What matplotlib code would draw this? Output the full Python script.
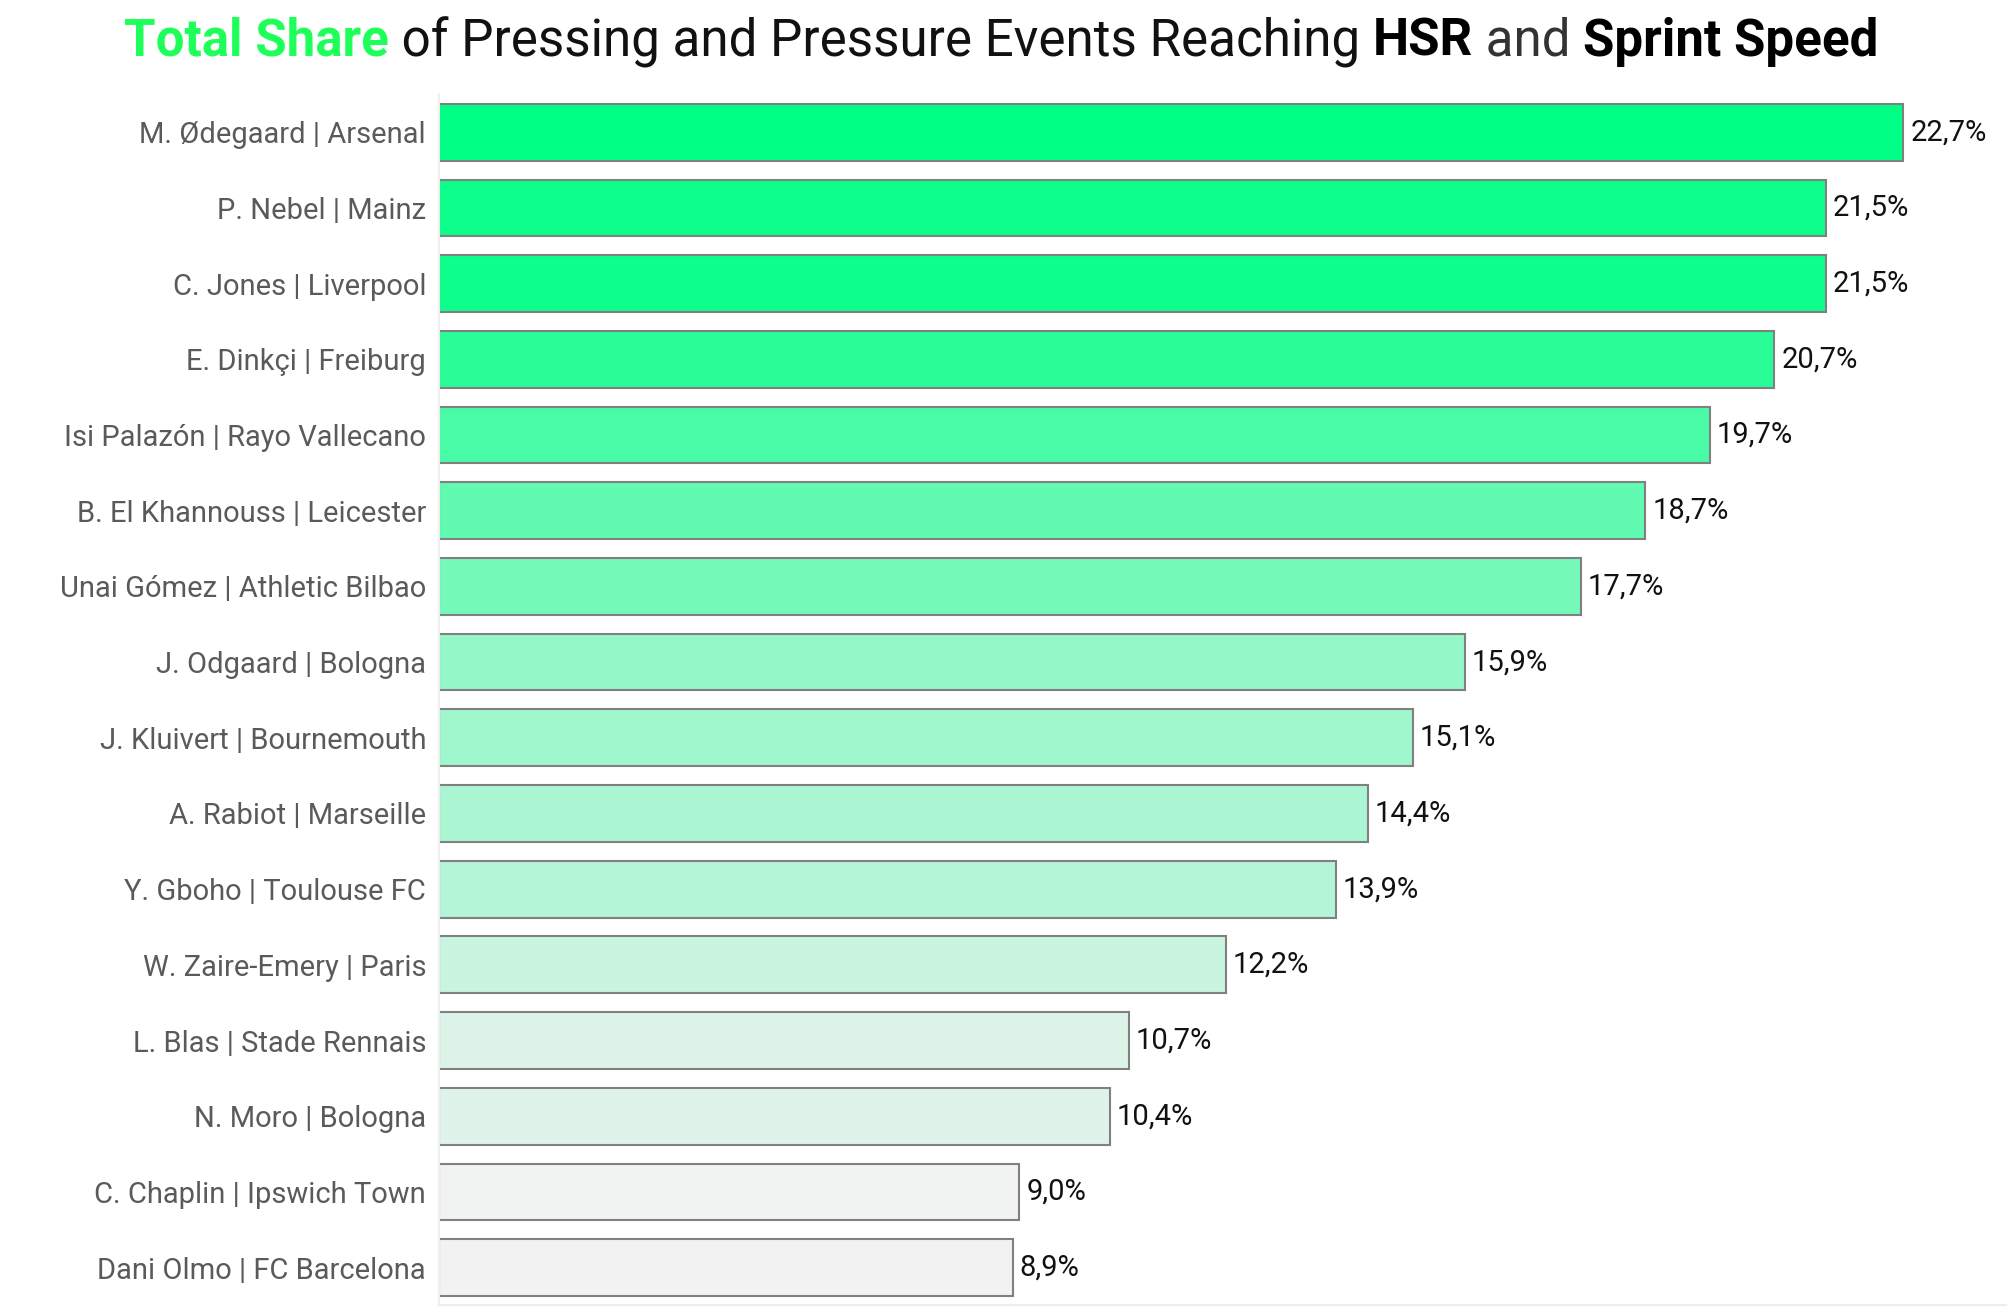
import matplotlib
matplotlib.use("Agg")
import matplotlib.pyplot as plt
import numpy as np
from matplotlib.colors import LinearSegmentedColormap, Normalize, to_rgb

players = [
    "M. Ødegaard | Arsenal",
    "P. Nebel | Mainz",
    "C. Jones | Liverpool",
    "E. Dinkçi | Freiburg",
    "Isi Palazón | Rayo Vallecano",
    "B. El Khannouss | Leicester",
    "Unai Gómez | Athletic Bilbao",
    "J. Odgaard | Bologna",
    "J. Kluivert | Bournemouth",
    "A. Rabiot | Marseille",
    "Y. Gboho | Toulouse FC",
    "W. Zaire-Emery | Paris",
    "L. Blas | Stade Rennais",
    "N. Moro | Bologna",
    "C. Chaplin | Ipswich Town",
    "Dani Olmo | FC Barcelona",
]
shares = [22.7, 21.5, 21.5, 20.7, 19.7, 18.7, 17.7, 15.9, 15.1, 14.4, 13.9, 12.2, 10.7, 10.4, 9.0, 8.9]

FONT = ["Roboto", "DejaVu Sans"]
plt.rcParams["font.family"] = FONT

fig = plt.figure(figsize=(20.12, 13.12), dpi=100)
ax = fig.add_axes([0.218, 0.005, 0.779, 0.923])

# colour ramp (light grey -> vivid green), eased curve
lo = np.array(to_rgb("#f2f2f2"))
hi = np.array(to_rgb("#00ff85"))
ramp = [(0.0, 0.0), (0.24, 0.17), (0.36, 0.26), (0.51, 0.39), (0.64, 0.52),
        (0.78, 0.69), (0.855, 0.83), (0.92, 0.96), (1.0, 1.0)]
cmap = LinearSegmentedColormap.from_list(
    "g", [(p, tuple(lo + f * (hi - lo))) for p, f in ramp])
norm = Normalize(vmin=min(shares), vmax=max(shares))
colors = [cmap(norm(v)) for v in shares]

y = np.arange(len(players))
ax.barh(y, shares, height=0.75, color=colors, edgecolor="#808080", linewidth=1.5)
ax.set_ylim(len(players) - 0.5, -0.5)
ax.set_xlim(0, max(shares) * 1.07)
ax.set_yticks(y)
ax.set_yticklabels(players, fontsize=21, color="#5a5a5a")
ax.tick_params(axis="y", length=0, pad=9)
ax.set_xticks([])
for s in ["top", "right"]:
    ax.spines[s].set_visible(False)
for s in ["left", "bottom"]:
    ax.spines[s].set_color("#eeeeee")
    ax.spines[s].set_linewidth(1.5)

for yi, v in zip(y, shares):
    ax.annotate(f"{v:.1f}%".replace(".", ","), (v, yi), xytext=(5, 0),
                textcoords="offset points", va="center", ha="left",
                fontsize=21, color="#111111")

# Multi-part title
parts = [
    ("Total Share", "#1eff5a", "bold"),
    (" of Pressing and Pressure Events Reaching ", "#111111", "normal"),
    ("HSR", "#000000", "bold"),
    (" and ", "#333333", "normal"),
    ("Sprint Speed", "#000000", "bold"),
]
renderer = fig.canvas.get_renderer()
fs = 36.8
texts = []
widths = []
for s, c, w in parts:
    t = fig.text(0, 0.968, s, color=c, fontweight=w, fontsize=fs,
                 ha="left", va="center")
    texts.append(t)
    widths.append(t.get_window_extent(renderer).width)
total = sum(widths)
figw = fig.get_figwidth() * fig.dpi
x0 = (figw * 0.4975 - total / 2)
for t, w in zip(texts, widths):
    t.set_x(x0 / figw)
    x0 += w

fig.savefig("out.png", dpi=100, facecolor="white")
